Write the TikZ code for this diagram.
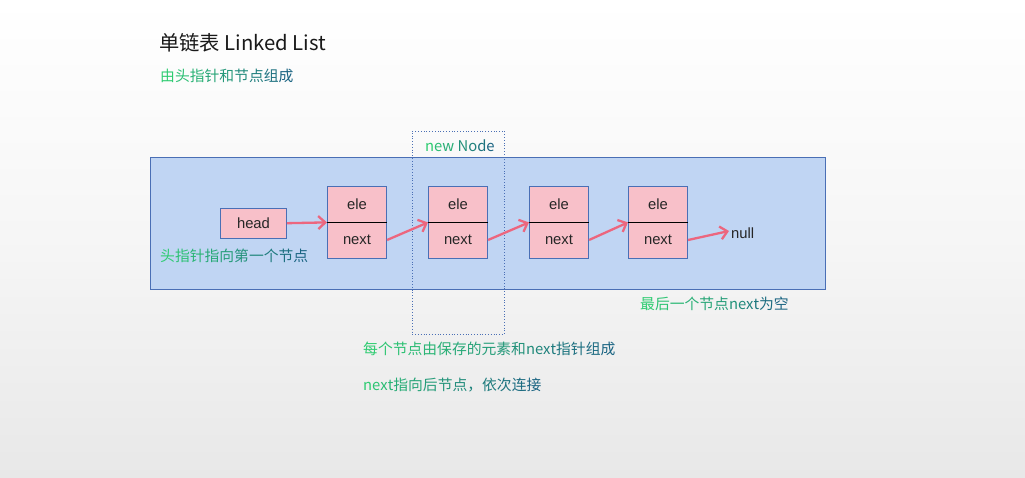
\documentclass[tikz,border=0pt]{standalone}
\usepackage{fontspec}
\setmainfont{Liberation Sans}
\newfontfamily\cjk{Noto Sans CJK SC}
\usetikzlibrary{arrows.meta}
\definecolor{gstart}{RGB}{46,204,113}
\definecolor{gend}{RGB}{26,100,130}
\definecolor{panelfill}{RGB}{192,213,243}
\definecolor{panelline}{RGB}{74,111,181}
\definecolor{boxfill}{RGB}{248,192,201}
\definecolor{arrowc}{RGB}{236,102,126}
\definecolor{bgbot}{RGB}{232,232,232}
\newcount\gradn \newcount\gradi
\def\gradcountA#1{\ifx#1\relax\else\advance\gradn by 1 \expandafter\gradcountA\fi}
\def\gradA#1{\ifx#1\relax\else
  \pgfmathsetmacro\gradpct{\gradn>1 ? 100*\gradi/(\gradn-1) : 0}%
  \textcolor{gend!\gradpct!gstart}{#1}\global\advance\gradi by 1 \expandafter\gradA\fi}
\newcommand\gradtext[1]{\gradn=0 \gradcountA#1\relax\global\gradi=0 \gradA#1\relax}
\tikzset{
  partbox/.style={draw=panelline, fill=boxfill, line width=0.8pt, minimum width=59.3pt, minimum height=36pt, inner sep=0pt, font=\fontsize{14.8}{16}\selectfont, text=black!85},
  headbox/.style={draw=panelline, fill=boxfill, line width=0.8pt, minimum width=66pt, minimum height=29.5pt, inner sep=0pt, font=\fontsize{14.8}{16}\selectfont, text=black!85},
  link/.style={draw=arrowc, line width=2.3pt, -{Straight Barb[length=7pt,width=13pt,line width=2.3pt]}},
  note/.style={anchor=west, inner sep=0pt, font=\cjk\fontsize{14.8}{16}\selectfont},
}
\begin{document}
\begin{tikzpicture}[x=1pt,y=-1pt]
\useasboundingbox (0,0) rectangle (1025,478);
\shade[top color=white, bottom color=bgbot, middle color=white!60!bgbot] (0,0) rectangle (1025,478);
\node[anchor=west, inner sep=0pt, font=\cjk\fontsize{20.3}{22}\selectfont, text=black!90] (title) at (159,43) {单链表 Linked List};
\node[note] (sub) at (160,76) {\gradtext{由头指针和节点组成}};
\node[draw=panelline, fill=panelfill, line width=0.8pt, minimum width=675pt, minimum height=131.5pt, inner sep=0pt] (panel) at (488,223.25) {};
\node[draw=panelline, dotted, line width=0.8pt, minimum width=92pt, minimum height=203.3pt, inner sep=0pt] (newnode) at (458.3,232.65) {};
\node[note] (newlbl) at (425,146) {\gradtext{new~Node}};
\node[headbox] (head) at (253.5,223.2) {head};
\foreach \i/\x in {1/357,2/458,3/559,4/658}{
  \node[partbox] (e\i) at (\x,204) {ele};
  \node[partbox] (n\i) at (\x,240) {next};
  \draw[black, line width=0.9pt] (e\i.south west) -- (e\i.south east);
}
\node[anchor=west, inner sep=0pt, font=\fontsize{14.8}{16}\selectfont, text=black!85] (null) at (731,233) {null};
\draw[link] (head.east) -- (e1.south west);
\draw[link] (n1.east) -- (e2.south west);
\draw[link] (n2.east) -- (e3.south west);
\draw[link] (n3.east) -- (e4.south west);
\draw[link] (n4.east) -- ([xshift=-2pt,yshift=2pt]null.west);
\node[note] (headnote) at (160,255.5) {\gradtext{头指针指向第一个节点}};
\node[note] (lastnote) at (640,304) {\gradtext{最后一个节点next为空}};
\node[note] (nodenote) at (363,349) {\gradtext{每个节点由保存的元素和next指针组成}};
\node[note] (linknote) at (363,385) {\gradtext{next指向后节点，依次连接}};
\end{tikzpicture}
\end{document}
